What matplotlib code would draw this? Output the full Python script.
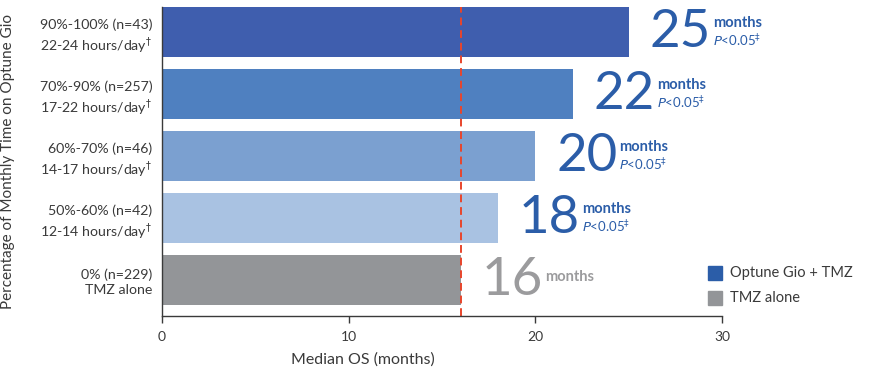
import matplotlib.pyplot as plt

plt.rcParams['font.family'] = ['Lato', 'DejaVu Sans']
plt.rcParams['mathtext.fontset'] = 'dejavusans'

groups = [
    "90%-100% (n=43)\n22-24 hours/day$^{\\dagger}$",
    "70%-90% (n=257)\n17-22 hours/day$^{\\dagger}$",
    "60%-70% (n=46)\n14-17 hours/day$^{\\dagger}$",
    "50%-60% (n=42)\n12-14 hours/day$^{\\dagger}$",
    "0% (n=229)\nTMZ alone",
]
median_os = [25, 22, 20, 18, 16]
bar_colors = ["#3F5EAE", "#4F80C0", "#7BA0D0", "#A9C2E2", "#939598"]
tmz_median = 16

blue_txt = "#2B5DA8"
gray_txt = "#9B9B9D"
axis_col = "#3A3A3A"

fig = plt.figure(figsize=(8.79, 3.8), dpi=100)
ax = fig.add_axes([162 / 879, 1 - 316 / 380, 560 / 879, 309 / 380])

pos = list(range(len(groups)))
ax.barh(pos, median_os, height=0.806, color=bar_colors)
ax.axvline(tmz_median, color="#E8452C", lw=1.4, ls=(0, (4, 2.5)))

ax.set_xlim(0, 30)
ax.set_ylim(4.58, -0.405)
ax.set_xticks([0, 10, 20, 30])
ax.set_yticks(pos)
ax.set_yticklabels(groups, fontsize=10.2, color=axis_col, linespacing=1.3)
ax.tick_params(axis="y", length=0, pad=7)
ax.tick_params(axis="x", length=5, width=1, color=axis_col, labelcolor=axis_col,
               labelsize=10, pad=6)
for s in ["top", "right"]:
    ax.spines[s].set_visible(False)
for s in ["left", "bottom"]:
    ax.spines[s].set_color(axis_col)
    ax.spines[s].set_linewidth(1)

ax.set_xlabel("Median OS (months)", fontsize=11.5, color=axis_col)
ax.xaxis.set_label_coords(0.359, -0.118)
ax.set_ylabel("Percentage of Monthly Time on Optune Gio", fontsize=11,
              color=axis_col)
ax.yaxis.set_label_coords(-0.262, 0.5)

# value annotations
for i, v in enumerate(median_os):
    col = gray_txt if i == len(median_os) - 1 else blue_txt
    t = ax.annotate(str(v), xy=(v, i), xytext=(15, 0), textcoords="offset points",
                    fontsize=38, color=col, va="center", ha="left")
    fig.canvas.draw()
    bb = t.get_window_extent()
    x_right = bb.x1 + 2
    y_mid = (bb.y0 + bb.y1) / 2
    if i == len(median_os) - 1:
        fig.text(x_right / 879, (y_mid + 3) / 380, "months", fontsize=10.5,
                 fontweight="bold", color=col, va="center", ha="left")
    else:
        fig.text(x_right / 879, (y_mid + 9) / 380, "months", fontsize=10.5,
                 fontweight="bold", color=col, va="center", ha="left")
        fig.text(x_right / 879, (y_mid - 9) / 380,
                 "$\\mathit{P}$<0.05$^{\\ddagger}$", fontsize=9.5,
                 color=col, va="center", ha="left")

# legend
fig.patches.append(plt.Rectangle((708 / 879, 1 - 280 / 380), 14 / 879, 14 / 380,
                                 transform=fig.transFigure, color="#2B5DA8"))
fig.patches.append(plt.Rectangle((708 / 879, 1 - 305 / 380), 14 / 879, 14 / 380,
                                 transform=fig.transFigure, color="#939598"))
fig.text(730 / 879, 1 - 273 / 380, "Optune Gio + TMZ", fontsize=10.5,
         color=axis_col, va="center")
fig.text(730 / 879, 1 - 298 / 380, "TMZ alone", fontsize=10.5,
         color=axis_col, va="center")

fig.savefig("out.png", dpi=100)
